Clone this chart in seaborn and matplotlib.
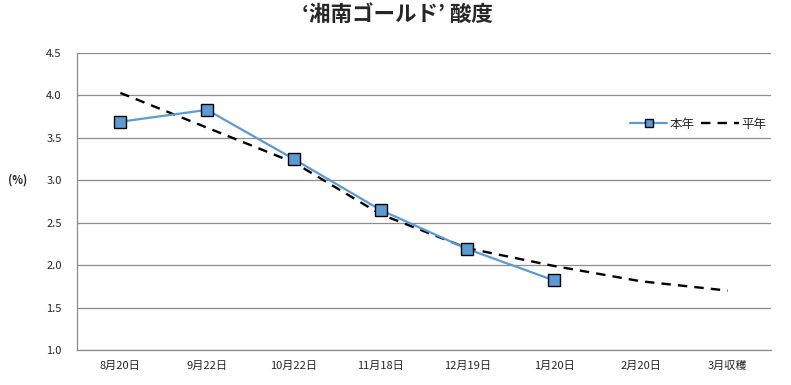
import numpy as np
import pandas as pd
import matplotlib
matplotlib.use('Agg')
import matplotlib.pyplot as plt
import seaborn as sns

# データ
categories = ['8月20日', '9月22日', '10月22日', '11月18日', '12月19日', '1月20日', '2月20日', '3月収穫']
honnen = [3.69, 3.83, 3.25, 2.65, 2.19, 1.82]
heinen = [4.03, 3.62, 3.21, 2.60, 2.20, 1.99, 1.81, 1.70]

sns.set_style('white')
plt.rcParams['font.family'] = ['Noto Sans CJK JP', 'DejaVu Sans']

fig = plt.figure(figsize=(7.91, 3.85), dpi=100)
ax = fig.add_axes([0.0973, 0.0909, 0.8774, 0.7714])

df_h = pd.DataFrame({'x': np.arange(len(honnen)), 'y': honnen})
df_p = pd.DataFrame({'x': np.arange(len(heinen)), 'y': heinen})

sns.lineplot(data=df_p, x='x', y='y', ax=ax, color='black', linewidth=1.7,
             linestyle=(0, (4, 3)), label='平年')
sns.lineplot(data=df_h, x='x', y='y', ax=ax, color='#5b9bd5', linewidth=1.6,
             marker='s', markersize=9, markerfacecolor='#5b9bd5',
             markeredgecolor='black', markeredgewidth=1.0, label='本年')

ax.set_xlim(-0.5, len(categories) - 0.5)
ax.set_ylim(1.0, 4.5)
ax.set_yticks(np.arange(1.0, 4.51, 0.5))
ax.set_yticklabels([f'{v:.1f}' for v in np.arange(1.0, 4.51, 0.5)], fontsize=8)
ax.yaxis.grid(True, color='#8c8c8c', linewidth=0.9)
ax.set_axisbelow(True)

# 区切りの目盛とカテゴリラベル
ax.set_xticks(np.arange(-0.5, len(categories), 1.0))
ax.set_xticklabels([])
ax.set_xticks(np.arange(len(categories)), minor=True)
ax.set_xticklabels(categories, minor=True, fontsize=8)
ax.tick_params(axis='x', which='major', length=5, color='#8c8c8c', direction='out')
ax.tick_params(axis='x', which='minor', length=0, pad=8)
ax.tick_params(axis='y', length=5, color='#8c8c8c', direction='out', pad=6)

for s in ['top', 'right']:
    ax.spines[s].set_visible(False)
for s in ['left', 'bottom']:
    ax.spines[s].set_color('#8c8c8c')
    ax.spines[s].set_linewidth(0.9)

ax.set_xlabel('')
ax.set_ylabel('(%)', rotation=0, fontsize=8, fontweight='bold', va='center')
ax.yaxis.set_label_coords(-0.085, (3.0 - 1.0) / 3.5)

handles, labels = ax.get_legend_handles_labels()
ax.legend(handles[::-1], labels[::-1], loc='center', bbox_to_anchor=(0.895, 0.76),
          ncol=2, frameon=False, fontsize=9, handlelength=3.0, columnspacing=0.5,
          handletextpad=0.2, markerscale=0.7)

fig.suptitle('‘湘南ゴールド’ 酸度', fontsize=15.5, fontweight='bold', x=0.503, y=0.99)

fig.savefig('out.png', dpi=100)
